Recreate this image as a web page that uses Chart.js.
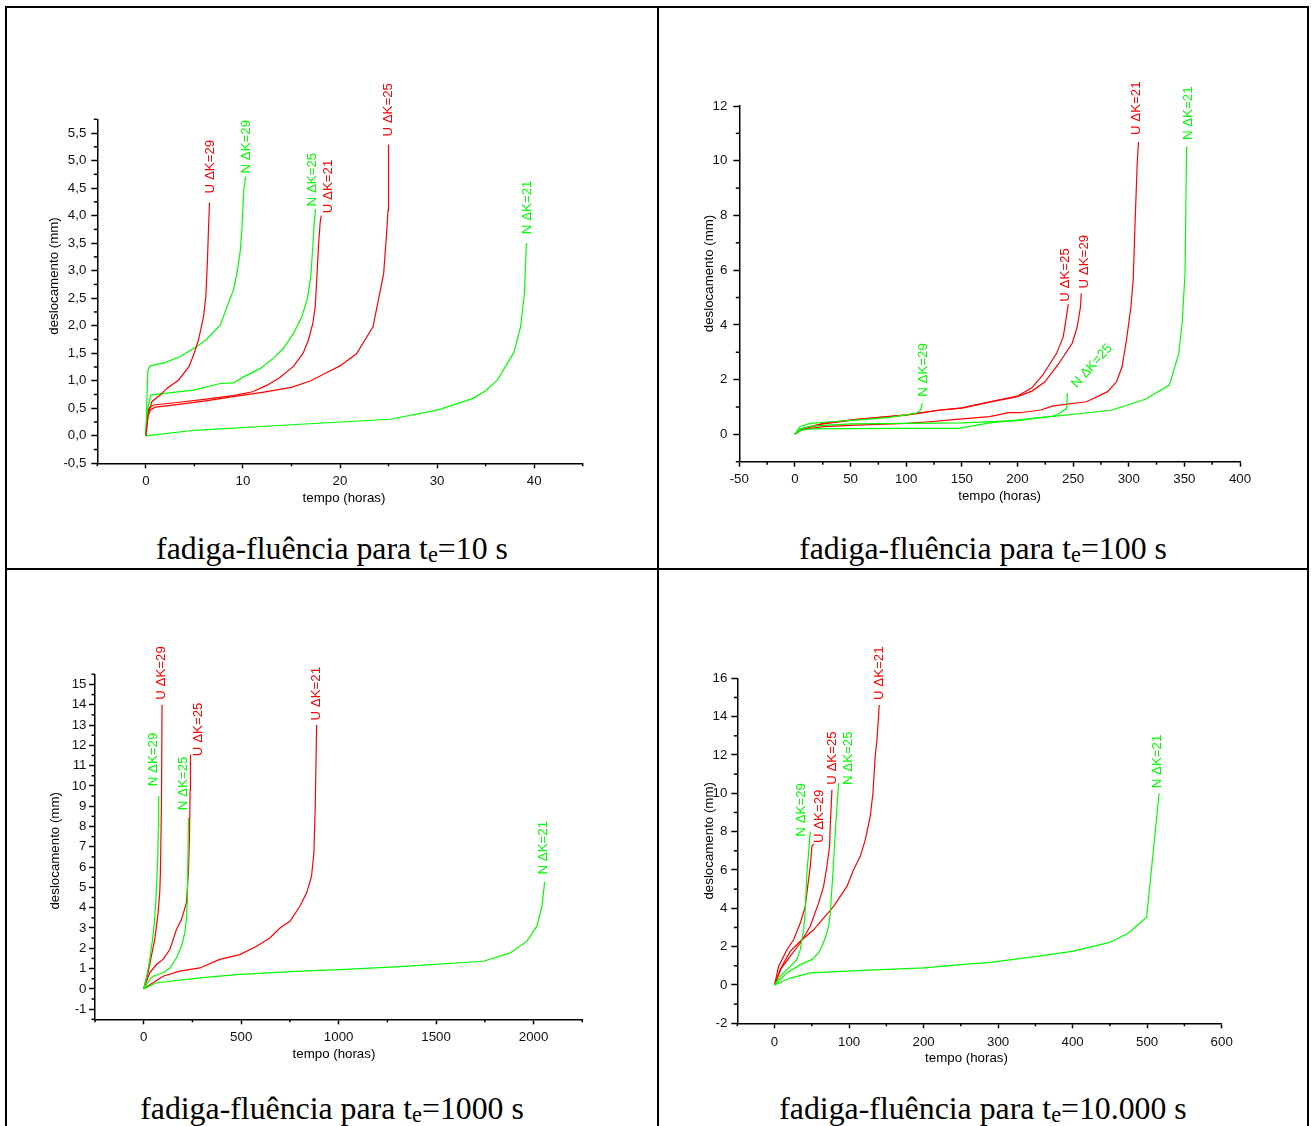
<!DOCTYPE html>
<html><head><meta charset="utf-8">
<script src="https://cdn.jsdelivr.net/npm/chart.js@4.4.1/dist/chart.umd.min.js"></script>
<style>
html,body{margin:0;padding:0;background:#fff;}
#page{position:relative;width:1311px;height:1126px;overflow:hidden;background:#fff;}
.rule{position:absolute;background:#000;}
canvas{position:absolute;}
.cap{position:absolute;font-family:"Liberation Serif","Times New Roman",serif;font-size:31.8px;line-height:1;white-space:nowrap;color:#000;text-align:center;}
.cap sub{font-size:70%;vertical-align:-3px;line-height:0;}
</style></head>
<body><div id="page">
<div class="rule" style="left:5px;top:6px;width:1304px;height:2px"></div>
<div class="rule" style="left:5px;top:6px;width:2px;height:1120px"></div>
<div class="rule" style="left:1307px;top:6px;width:2px;height:1120px"></div>
<div class="rule" style="left:657px;top:6px;width:2px;height:1120px"></div>
<div class="rule" style="left:5px;top:568px;width:1304px;height:2px"></div>
<canvas id="c1" width="648" height="520" style="left:8px;top:9px"></canvas>
<canvas id="c2" width="646" height="520" style="left:660px;top:9px"></canvas>
<canvas id="c3" width="648" height="500" style="left:8px;top:571px"></canvas>
<canvas id="c4" width="646" height="500" style="left:660px;top:571px"></canvas>
<div class="cap" style="left:7px;width:650px;top:533px">fadiga-fluência para t<sub>e</sub>=10 s</div>
<div class="cap" style="left:659px;width:648px;top:533px">fadiga-fluência para t<sub>e</sub>=100 s</div>
<div class="cap" style="left:7px;width:650px;top:1093px">fadiga-fluência para t<sub>e</sub>=1000 s</div>
<div class="cap" style="left:659px;width:648px;top:1093px">fadiga-fluência para t<sub>e</sub>=10.000 s</div>
</div>
<script>
// ---------- DATA: panel 1 (te = 10 s), tempo (horas) vs deslocamento (mm) ----------
const p1_U29_x = [0,0.27,0.62,1.48,2.16,3.36,4.46,4.98,5.42,5.94,6.18,6.35,6.45,6.56];
const p1_U29_y = [0,0.41,0.62,0.74,0.86,1.01,1.26,1.50,1.74,2.16,2.53,3.20,3.74,4.24];
const p1_N29_x = [0,0.10,0.21,0.45,1.99,3.54,5.25,6.18,7.66,8.51,9.03,9.44,9.72,9.89,10.09,10.30];
const p1_N29_y = [0,0.65,1.19,1.27,1.33,1.44,1.62,1.74,2.01,2.41,2.65,3.01,3.35,3.74,4.47,4.71];
const p1_N25_x = [0,0.17,0.51,1.48,4.91,7.66,9.03,10.06,11.77,13.15,14.18,15.21,16.07,16.65,16.99,17.20,17.34,17.47];
const p1_N25_y = [0,0.47,0.74,0.76,0.83,0.95,0.96,1.07,1.22,1.41,1.59,1.86,2.16,2.50,2.89,3.44,3.86,4.12];
const p1_U21_x = [0,0.1,0.3,0.8,3,6,9,11,12.5,13.8,15.2,16.2,16.75,17.2,17.45,17.6,17.78,17.95,18.06];
const p1_U21_y = [0,0.3,0.5,0.56,0.6,0.66,0.73,0.8,0.92,1.06,1.26,1.5,1.74,2.04,2.35,2.83,3.44,3.86,4.0];
const p1_U25_x = [0,0.2,0.5,1,3,6,9,12,15,17,19,20,21.7,23.4,24.5,24.8,24.95,25.0];
const p1_U25_y = [0,0.35,0.48,0.52,0.56,0.63,0.71,0.79,0.88,1.0,1.18,1.27,1.49,1.98,2.95,3.68,4.1,5.29];
const p1_N21_x = [0,5,15,25.2,30.3,33.7,35,36.2,37.9,38.6,39,39.1,39.2];
const p1_N21_y = [0,0.1,0.2,0.3,0.48,0.68,0.82,1.01,1.51,1.98,2.59,3.07,3.5];
const p1_xTicks = [0,10,20,30,40];
const p1_yTicks = [-0.5,0,0.5,1,1.5,2,2.5,3,3.5,4,4.5,5,5.5];

// ---------- DATA: panel 2 (te = 100 s) ----------
const p2_N29_x = [0,4.5,13.5,31.5,55,85,100,109,113,114.5];
const p2_N29_y = [0,0.28,0.4,0.46,0.52,0.62,0.71,0.77,0.89,1.13];
const p2_U25_x = [0,7.5,25.5,55,100,130,150,175,200,213,222.8,235.2,241.2,245.7];
const p2_U25_y = [0,0.22,0.4,0.55,0.71,0.89,0.97,1.19,1.4,1.7,2.17,2.96,3.57,4.76];
const p2_U29_x = [0,7.5,25.5,55,100,130,150,175,200,213,224.7,237.2,249.2,253.7,256.7,257.3];
const p2_U29_y = [0,0.2,0.38,0.54,0.7,0.88,0.96,1.18,1.38,1.58,1.92,2.59,3.33,3.93,4.67,5.15];
const p2_U21_x = [0,4.5,25.5,55,100,121,145,175,192,202,221,232,262,281,289,294,298,302,304,306,307.6,308.8];
const p2_U21_y = [0,0.16,0.28,0.34,0.4,0.46,0.55,0.65,0.79,0.79,0.89,1.04,1.19,1.56,1.92,2.47,3.45,4.67,5.64,8.08,9.9,10.69];
const p2_N25_x = [0,5,15,50,100,147,175,208,232,238,244.2,244.8];
const p2_N25_y = [0,0.15,0.2,0.21,0.22,0.22,0.42,0.56,0.67,0.77,0.95,1.5];
const p2_N21_x = [0,5,15,50,100,150,200,223,259,285,315,336.5,345,348,350.6,352];
const p2_N21_y = [0,0.2,0.3,0.38,0.4,0.42,0.5,0.62,0.77,0.89,1.28,1.8,2.96,4.06,5.88,10.51];
const p2_xTicks = [-50,0,50,100,150,200,250,300,350,400];
const p2_yTicks = [0,2,4,6,8,10,12];

// ---------- DATA: panel 3 (te = 1000 s) ----------
const p3_N29_x = [0,15,30,45,55,62,68,72,75,77];
const p3_N29_y = [0,0.6,1.4,2.4,3.3,4.3,5.5,6.5,8,9.5];
const p3_U29_x = [0,22,39,56.5,73.6,82,85.6,90.8,94];
const p3_U29_y = [0,0.79,1.6,2.43,3.75,4.73,5.72,9.0,14.0];
const p3_U25_x = [0,30.8,65,99,134,168,193.5,219,229,234.6,238,239.7];
const p3_U25_y = [0,0.79,1.2,1.45,1.94,2.92,3.42,4.24,5.72,7.36,9.8,11.55];
const p3_N25_x = [0,30.8,48,99,134,168,193.5,210.6,219,224,229.5];
const p3_N25_y = [0,0.46,0.62,0.79,1.03,1.53,2.1,2.76,3.42,4.4,8.43];
const p3_U21_x = [0,48,99,185,288,390,493,579,647,699,750,801,836,861,873,880,887];
const p3_U21_y = [0,0.3,0.62,0.87,1.03,1.45,1.69,2.1,2.51,3.0,3.33,4.07,4.73,5.55,6.7,9.0,13.0];
const p3_N21_x = [0,65,300,493,801,1007,1315,1743,1880,1966,2017,2043,2057];
const p3_N21_y = [0,0.3,0.55,0.71,0.87,0.95,1.1,1.36,1.77,2.35,3.09,4.07,5.27];
const p3_xTicks = [0,500,1000,1500,2000];
const p3_yTicks = [-1,0,1,2,3,4,5,6,7,8,9,10,11,12,13,14,15];

// ---------- DATA: panel 4 (te = 10.000 s) ----------
const p4_N29_x = [0,7.6,21,30,34.5,39,41,43.4,45.6,47.9];
const p4_N29_y = [0,0.45,0.97,1.32,1.84,2.88,3.75,5.84,6.88,8.0];
const p4_U29_x = [0,5.4,16.6,25.5,34.5,41.2,45.6,47.9,50.1,52.3];
const p4_U29_y = [0,0.97,1.84,2.36,3.23,4.1,5.49,6.18,7.23,7.37];
const p4_U25_x = [0,7.6,21,34.5,47.9,59,65.8,70.2,73.8,74.7,77];
const p4_U25_y = [0,0.8,1.49,2.19,3.06,4.27,5.14,6.18,7.23,8.27,10.18];
const p4_N25_x = [0,16.6,34.5,50.1,59,63.5,68,72.5,74.7,78.3,81.4,85.9];
const p4_N25_y = [0,0.63,1.06,1.32,1.67,2.02,2.45,3.06,3.75,5.84,7.92,10.53];
const p4_U21_x = [0,9.8,21,34.5,52.3,65.8,79.2,97.1,106,115,121.7,128.4,132,135,137.4,140.5];
const p4_U21_y = [0,0.97,1.75,2.28,2.88,3.49,4.1,5.14,6.01,6.71,7.57,8.79,10.0,11.92,12.79,14.61];
const p4_N21_x = [0,21,47.9,110.5,200,249,289.5,351.8,399,450,474.9,499.3,516];
const p4_N21_y = [0,0.36,0.63,0.75,0.89,1.06,1.18,1.49,1.75,2.22,2.71,3.53,10.0];
const p4_xTicks = [0,100,200,300,400,500,600];
const p4_yTicks = [-2,0,2,4,6,8,10,12,14,16];

// ---------- TEXT ----------
const xTitle = 'tempo (horas)';
const yTitle = 'deslocamento (mm)';

// ---------- STYLE ----------
const RED = '#ff0000', GREEN = '#00ff00';
const SANS = '"Liberation Sans", Arial, Helvetica, sans-serif';
const FS = 13.3;

function zip(xs, ys){ return xs.map((x,i)=>({x:x, y:ys[i]})); }

const minorTicks = {
  id:'minorTicks',
  afterDraw(chart, args, o){
    const ctx = chart.ctx;
    ctx.save(); ctx.strokeStyle = '#000'; ctx.lineWidth = 1.5;
    ['x','y'].forEach(id=>{
      const s = chart.scales[id], m = o[id];
      if(!s || !m) return;
      const n = Math.round((s.max - s.min)/m.step);
      for(let i=0;i<=n;i++){
        const v = s.min + i*m.step;
        if(m.major.some(t=>Math.abs(t-v)<1e-9)) continue;
        const p = s.getPixelForValue(v);
        ctx.beginPath();
        if(id==='x'){ ctx.moveTo(p, s.top); ctx.lineTo(p, s.top + m.len); }
        else { ctx.moveTo(s.right, p); ctx.lineTo(s.right - m.len, p); }
        ctx.stroke();
      }
    });
    ctx.restore();
  }
};

const endLabels = {
  id:'endLabels',
  afterDatasetsDraw(chart){
    const ctx = chart.ctx;
    ctx.save();
    ctx.font = FS + 'px ' + SANS;
    chart.data.datasets.forEach((ds,i)=>{
      const pts = chart.getDatasetMeta(i).data;
      const p = pts[pts.length-1];
      const e = ds.endLabel;
      ctx.save();
      ctx.translate(p.x + e[0], p.y + e[1]);
      ctx.rotate((e[2]===undefined ? -90 : e[2]) * Math.PI/180);
      ctx.fillStyle = ds.borderColor;
      ctx.textAlign = 'left'; ctx.textBaseline = 'middle';
      ctx.fillText(ds.label, 0, 0);
      ctx.restore();
    });
    ctx.restore();
  }
};

const axisTitles = {
  id:'axisTitles',
  afterDraw(chart, args, o){
    const a = chart.chartArea, ctx = chart.ctx;
    ctx.save();
    ctx.font = FS + 'px ' + SANS; ctx.fillStyle = '#000';
    ctx.textAlign = 'center'; ctx.textBaseline = 'middle';
    ctx.fillText(xTitle, (a.left+a.right)/2 + o.x[0], a.bottom + o.x[1]);
    ctx.translate(a.left + o.y[0], (a.top+a.bottom)/2 + o.y[1]);
    ctx.rotate(-Math.PI/2);
    ctx.fillText(yTitle, 0, 0);
    ctx.restore();
  }
};

function makePanel(p){
  const cv = document.getElementById(p.id);
  const W = cv.width, H = cv.height;
  const yW = 60, xH = 40;
  const l = p.area.l - p.pos.x, r = p.area.r - p.pos.x, t = p.area.t - p.pos.y, b = p.area.b - p.pos.y;
  const datasets = p.series.map(s=>({
    label: s.name, data: zip(s.xs, s.ys), borderColor: s.color, backgroundColor: s.color,
    borderWidth: 1.2, pointRadius: 0, showLine: true, fill: false, tension: 0,
    endLabel: s.lab
  }));
  const tickFont = {family: SANS, size: FS};
  new Chart(cv, {
    type: 'scatter',
    data: {datasets},
    options: {
      responsive: false, animation: false, events: [],
      layout: {padding: {left: l - yW, right: W - r, top: t, bottom: H - b - xH}},
      plugins: {legend:{display:false}, tooltip:{enabled:false},
        minorTicks: {x:{step:p.x.minor, major:p.x.ticks, len:3}, y:{step:p.y.minor, major:p.y.ticks, len:3.5}},
        axisTitles: {x:p.xt, y:p.yt}},
      scales: {
        x: {type:'linear', min:p.x.min, max:p.x.max, afterFit: s=>{ s.height = xH; },
            afterBuildTicks: s=>{ s.ticks = p.x.ticks.map(v=>({value:v})); },
            ticks:{autoSkip:false, maxRotation:0, color:'#111', font:tickFont, padding:p.xpad,
                   callback: v => String(v)},
            grid:{drawOnChartArea:false, drawTicks:true, tickLength:5, tickWidth:1.5, tickColor:'#000', color:'#000'},
            border:{display:true, color:'#000', width:1.5}},
        y: {type:'linear', min:p.y.min, max:p.y.max, afterFit: s=>{ s.width = yW; },
            afterBuildTicks: s=>{ s.ticks = p.y.ticks.map(v=>({value:v})); },
            ticks:{autoSkip:false, color:'#111', font:tickFont, padding:p.ypad,
                   callback: p.yfmt},
            grid:{drawOnChartArea:false, drawTicks:true, tickLength:6, tickWidth:1.5, tickColor:'#000', color:'#000'},
            border:{display:true, color:'#000', width:1.5}}
      }
    },
    plugins: [minorTicks, endLabels, axisTitles]
  });
}

const intFmt = v => String(Math.round(v));
const commaFmt = v => (Math.abs(v)<1e-9 ? 0 : v).toFixed(1).replace('.', ',');

makePanel({
  id:'c1', pos:{x:8,y:9}, area:{l:97.3, r:582.7, t:119.3, b:463.3},
  x:{min:-5, max:45, ticks:p1_xTicks, minor:5}, y:{min:-0.5, max:5.75, ticks:p1_yTicks, minor:0.25},
  yfmt: commaFmt, xpad:5, ypad:5, xt:[4,34.7], yt:[-43.3,-15.3],
  series:[
    {name:'U ΔK=29', color:RED,   xs:p1_U29_x, ys:p1_U29_y, lab:[0.6,-9]},
    {name:'N ΔK=29', color:GREEN, xs:p1_N29_x, ys:p1_N29_y, lab:[1,-3]},
    {name:'N ΔK=25', color:GREEN, xs:p1_N25_x, ys:p1_N25_y, lab:[-3.6,-2.6]},
    {name:'U ΔK=21', color:RED,   xs:p1_U21_x, ys:p1_U21_y, lab:[7.3,-2.4]},
    {name:'U ΔK=25', color:RED,   xs:p1_U25_x, ys:p1_U25_y, lab:[0,-8]},
    {name:'N ΔK=21', color:GREEN, xs:p1_N21_x, ys:p1_N21_y, lab:[1.4,-9]}
  ]
});
makePanel({
  id:'c2', pos:{x:660,y:9}, area:{l:739.3, r:1240, t:106, b:461.7},
  x:{min:-50, max:400, ticks:p2_xTicks, minor:25}, y:{min:-1, max:12, ticks:p2_yTicks, minor:1},
  yfmt: intFmt, xpad:5, ypad:6, xt:[10,35], yt:[-30.3,-10.4],
  series:[
    {name:'N ΔK=29', color:GREEN, xs:p2_N29_x, ys:p2_N29_y, lab:[1,-6.7]},
    {name:'N ΔK=25', color:GREEN, xs:p2_N25_x, ys:p2_N25_y, lab:[6.7,-7.3,-48]},
    {name:'N ΔK=21', color:GREEN, xs:p2_N21_x, ys:p2_N21_y, lab:[1.7,-6.7]},
    {name:'U ΔK=25', color:RED,   xs:p2_U25_x, ys:p2_U25_y, lab:[-3.3,-2.4]},
    {name:'U ΔK=29', color:RED,   xs:p2_U29_x, ys:p2_U29_y, lab:[2.8,-5]},
    {name:'U ΔK=21', color:RED,   xs:p2_U21_x, ys:p2_U21_y, lab:[-1.8,-6.8]}
  ]
});
makePanel({
  id:'c3', pos:{x:8,y:571}, area:{l:95, r:582.3, t:674.3, b:1019.3},
  x:{min:-250, max:2250, ticks:p3_xTicks, minor:250}, y:{min:-1.5, max:15.5, ticks:p3_yTicks, minor:0.5},
  yfmt: intFmt, xpad:5, ypad:2.5, xt:[-4.7,34.7], yt:[-40,4],
  series:[
    {name:'N ΔK=29', color:GREEN, xs:p3_N29_x, ys:p3_N29_y, lab:[-5.7,-9.8]},
    {name:'N ΔK=25', color:GREEN, xs:p3_N25_x, ys:p3_N25_y, lab:[-5.4,-7.6]},
    {name:'N ΔK=21', color:GREEN, xs:p3_N21_x, ys:p3_N21_y, lab:[-1.2,-7.4]},
    {name:'U ΔK=29', color:RED,   xs:p3_U29_x, ys:p3_U29_y, lab:[-0.6,-5]},
    {name:'U ΔK=25', color:RED,   xs:p3_U25_x, ys:p3_U25_y, lab:[7.6,1.7]},
    {name:'U ΔK=21', color:RED,   xs:p3_U21_x, ys:p3_U21_y, lab:[0,-4.5]}
  ]
});
makePanel({
  id:'c4', pos:{x:660,y:571}, area:{l:737.3, r:1221.7, t:678.3, b:1023.3},
  x:{min:-50, max:600, ticks:p4_xTicks, minor:50}, y:{min:-2, max:16, ticks:p4_yTicks, minor:1},
  yfmt: intFmt, xpad:6, ypad:4, xt:[-13,34.7], yt:[-28.3,-10],
  series:[
    {name:'N ΔK=29', color:GREEN, xs:p4_N29_x, ys:p4_N29_y, lab:[-9,5]},
    {name:'N ΔK=25', color:GREEN, xs:p4_N25_x, ys:p4_N25_y, lab:[10,1.8]},
    {name:'N ΔK=21', color:GREEN, xs:p4_N21_x, ys:p4_N21_y, lab:[-1.7,-5]},
    {name:'U ΔK=29', color:RED,   xs:p4_U29_x, ys:p4_U29_y, lab:[6,-0.6]},
    {name:'U ΔK=25', color:RED,   xs:p4_U25_x, ys:p4_U25_y, lab:[0,-5]},
    {name:'U ΔK=21', color:RED,   xs:p4_U21_x, ys:p4_U21_y, lab:[0,-5]}
  ]
});
</script>
</body></html>
